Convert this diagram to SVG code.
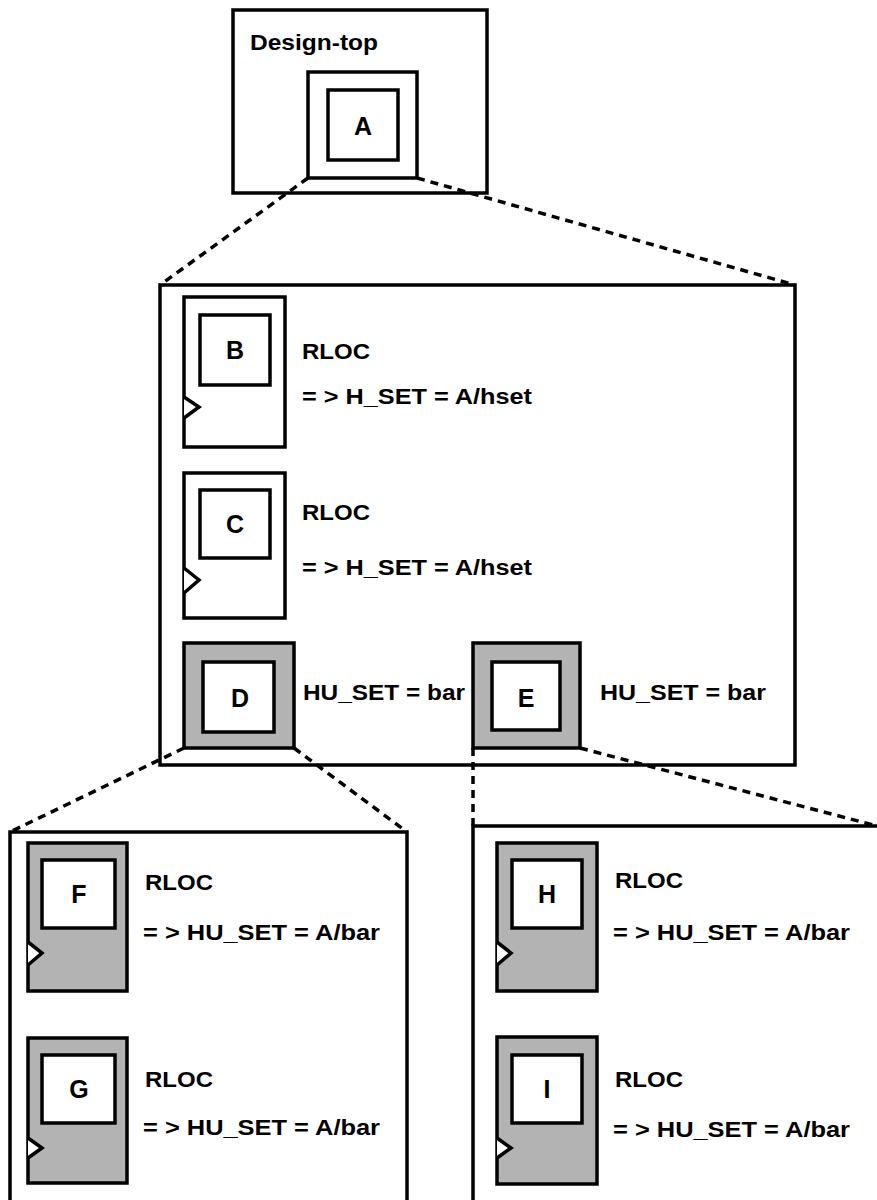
<svg xmlns="http://www.w3.org/2000/svg" width="877" height="1200" viewBox="0 0 877 1200">
<style>
.box{fill:#fff;stroke:#000;stroke-width:3.5}
.grey{fill:#b3b3b3;stroke:#000;stroke-width:3.5}
.inner{fill:#fff;stroke:#000;stroke-width:3.5}
.clk{fill:#fff;stroke:#000;stroke-width:3.5;stroke-linejoin:miter}
.dash{fill:none;stroke:#000;stroke-width:3.5;stroke-dasharray:8 6}
text{font-family:"Liberation Sans",Arial,sans-serif;font-weight:bold;font-size:22px;fill:#000}
.lbl{text-anchor:middle;font-size:25px}
</style>
<rect width="877" height="1200" fill="#fff"/>
<g id="design-top">
<rect class="box" x="233" y="10" width="254" height="183"/>
<text x="250" y="50" font-size="24" textLength="128" lengthAdjust="spacingAndGlyphs">Design-top</text>
</g>
<g id="node-A">
<rect class="box" x="308" y="72" width="109" height="106"/>
<rect class="inner" x="328" y="90" width="70" height="70"/>
<text class="lbl" x="363" y="135">A</text>
</g>
<g id="middle-box">
<rect class="box" x="160" y="285" width="635" height="480"/>
</g>
<g id="node-B">
<rect class="box" x="184" y="297" width="101" height="150"/>
<rect class="inner" x="200" y="315" width="70" height="70"/>
<polyline class="clk" points="184,397 199,407 184,418"/>
<text class="lbl" x="235" y="359">B</text>
<text x="302" y="359" textLength="68" lengthAdjust="spacingAndGlyphs">RLOC</text>
<text x="302" y="404" textLength="230" lengthAdjust="spacingAndGlyphs">= &gt; H_SET = A/hset</text>
</g>
<g id="node-C">
<rect class="box" x="184" y="473" width="101" height="145"/>
<rect class="inner" x="200" y="490" width="70" height="68"/>
<polyline class="clk" points="184,568 199,580 184,593"/>
<text class="lbl" x="235" y="533">C</text>
<text x="302" y="520" textLength="68" lengthAdjust="spacingAndGlyphs">RLOC</text>
<text x="302" y="575" textLength="230" lengthAdjust="spacingAndGlyphs">= &gt; H_SET = A/hset</text>
</g>
<g id="node-D">
<rect class="grey" x="184" y="643" width="110" height="105"/>
<rect class="inner" x="203" y="662" width="71" height="70"/>
<text class="lbl" x="240" y="707">D</text>
<text x="303" y="700" textLength="162" lengthAdjust="spacingAndGlyphs">HU_SET = bar</text>
</g>
<g id="node-E">
<rect class="grey" x="473" y="643" width="107" height="105"/>
<rect class="inner" x="492" y="662" width="68" height="68"/>
<text class="lbl" x="526" y="707">E</text>
<text x="600" y="700" textLength="166" lengthAdjust="spacingAndGlyphs">HU_SET = bar</text>
</g>
<g id="left-box">
<rect class="box" x="10" y="832" width="397" height="380"/>
</g>
<g id="right-box">
<rect class="box" x="473" y="826" width="420" height="386"/>
</g>
<g id="node-F">
<rect class="grey" x="28" y="843" width="99" height="148"/>
<rect class="inner" x="42" y="860" width="73" height="68"/>
<polyline class="clk" points="28,942 42,953 28,965"/>
<text class="lbl" x="79" y="903">F</text>
<text x="145" y="890" textLength="68" lengthAdjust="spacingAndGlyphs">RLOC</text>
<text x="143" y="940" textLength="237" lengthAdjust="spacingAndGlyphs">= &gt; HU_SET = A/bar</text>
</g>
<g id="node-G">
<rect class="grey" x="28" y="1038" width="99" height="145"/>
<rect class="inner" x="42" y="1055" width="73" height="68"/>
<polyline class="clk" points="28,1138 42,1148 28,1158"/>
<text class="lbl" x="79" y="1098">G</text>
<text x="145" y="1087" textLength="68" lengthAdjust="spacingAndGlyphs">RLOC</text>
<text x="143" y="1135" textLength="237" lengthAdjust="spacingAndGlyphs">= &gt; HU_SET = A/bar</text>
</g>
<g id="node-H">
<rect class="grey" x="497" y="843" width="100" height="148"/>
<rect class="inner" x="512" y="860" width="70" height="68"/>
<polyline class="clk" points="497,942 511,953 497,965"/>
<text class="lbl" x="547" y="903">H</text>
<text x="615" y="888" textLength="68" lengthAdjust="spacingAndGlyphs">RLOC</text>
<text x="613" y="940" textLength="237" lengthAdjust="spacingAndGlyphs">= &gt; HU_SET = A/bar</text>
</g>
<g id="node-I">
<rect class="grey" x="497" y="1037" width="100" height="147"/>
<rect class="inner" x="512" y="1055" width="70" height="68"/>
<polyline class="clk" points="497,1138 511,1148 497,1158"/>
<text class="lbl" x="547" y="1098">I</text>
<text x="615" y="1087" textLength="68" lengthAdjust="spacingAndGlyphs">RLOC</text>
<text x="613" y="1137" textLength="237" lengthAdjust="spacingAndGlyphs">= &gt; HU_SET = A/bar</text>
</g>
<g id="connectors">
<line class="dash" x1="308" y1="178" x2="160" y2="285"/>
<line class="dash" x1="417" y1="178" x2="795" y2="285"/>
<line class="dash" x1="184" y1="748" x2="10" y2="832"/>
<line class="dash" x1="294" y1="748" x2="407" y2="832"/>
<line class="dash" x1="473" y1="748" x2="473" y2="826"/>
<line class="dash" x1="580" y1="748" x2="877" y2="826"/>
</g>
</svg>
